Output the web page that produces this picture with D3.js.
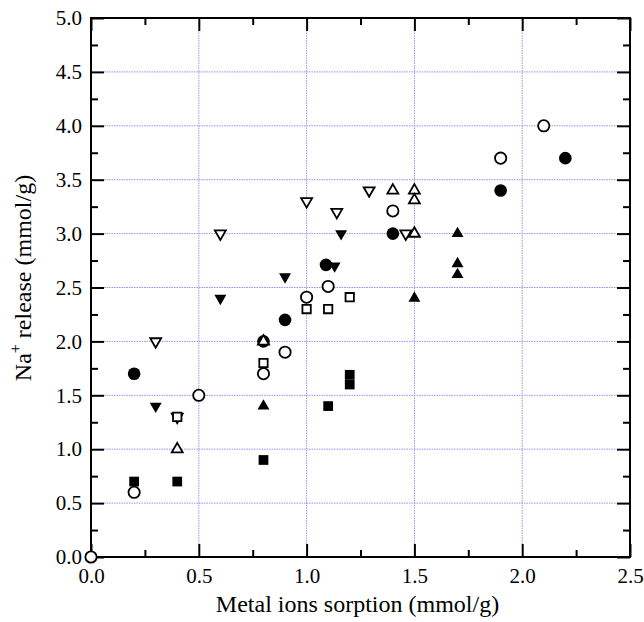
<!DOCTYPE html>
<html>
<head>
<meta charset="utf-8">
<script src="https://cdn.jsdelivr.net/npm/d3@7"></script>
<style>
  body { margin: 0; background: #fff; }
  text { font-family: "Liberation Serif", "Times New Roman", serif; fill: #000; }
</style>
</head>
<body>
<div id="chart"></div>
<script>
// tick values
var xMajor = [0, 0.5, 1.0, 1.5, 2.0, 2.5];
var xMinor = [0.25, 0.75, 1.25, 1.75, 2.25];
var yMajor = [0, 0.5, 1.0, 1.5, 2.0, 2.5, 3.0, 3.5, 4.0, 4.5, 5.0];
var yMinor = [0.25, 0.75, 1.25, 1.75, 2.25, 2.75, 3.25, 3.75, 4.25, 4.75];

// series values, [sorption, release]
var filledSquare = [[0.2, 0.7], [0.4, 0.7], [0.8, 0.9], [1.1, 1.4], [1.2, 1.6], [1.2, 1.69]];
var filledTriUp = [[0.8, 1.4], [1.5, 2.4], [1.7, 3.0], [1.7, 2.72], [1.7, 2.62]];
var filledTriDown = [[0.3, 1.4], [0.6, 2.4], [0.9, 2.6], [1.13, 2.7], [1.16, 3.0]];
var filledCircle = [[0.2, 1.7], [0.8, 2.0], [0.9, 2.2], [1.09, 2.71], [1.4, 3.0], [1.9, 3.4], [2.2, 3.7]];
var openTriDown = [[0.3, 2.0], [0.4, 1.3], [0.6, 3.0], [1.0, 3.3], [1.14, 3.2], [1.29, 3.4], [1.46, 3.0]];
var openSquare = [[0.4, 1.3], [0.8, 1.8], [1.0, 2.3], [1.1, 2.3], [1.2, 2.41]];
var openCircle = [[0, 0], [0.2, 0.6], [0.5, 1.5], [0.8, 1.7], [0.9, 1.9], [1.0, 2.41], [1.1, 2.51], [1.4, 3.21], [1.9, 3.7], [2.1, 4.0]];
var openTriUp = [[0.4, 1.0], [0.8, 2.0], [1.4, 3.4], [1.5, 3.4], [1.5, 3.31], [1.5, 3.0]];

var width = 644, height = 622;
var plotLeft = 91, plotRight = 630, plotTop = 18, plotBottom = 557;
var majorLen = 13, minorLen = 7;
var serif = '"Liberation Serif", "Times New Roman", serif';

var xScale = d3.scaleLinear().domain([0, 2.5]).range([plotLeft, plotRight]);
var yScale = d3.scaleLinear().domain([0, 5]).range([plotBottom, plotTop]);

var svg = d3.select('#chart').append('svg')
	.attr('width', width)
	.attr('height', height)
	.attr('font-family', serif);

// grid
svg.append('g').selectAll('line')
	.data(yMajor.filter(function (d) { return d > 0 && d < 5; }))
	.enter().append('line')
	.attr('x1', plotLeft + majorLen)
	.attr('x2', plotRight - majorLen)
	.attr('y1', function (d) { return yScale(d); })
	.attr('y2', function (d) { return yScale(d); })
	.attr('stroke', '#9595f2')
	.attr('stroke-width', 1)
	.attr('stroke-dasharray', '1.5,1');

svg.append('g').selectAll('line')
	.data(xMajor.filter(function (d) { return d > 0 && d < 2.5; }))
	.enter().append('line')
	.attr('y1', plotBottom - majorLen)
	.attr('y2', plotTop + majorLen)
	.attr('x1', function (d) { return xScale(d); })
	.attr('x2', function (d) { return xScale(d); })
	.attr('stroke', '#9595f2')
	.attr('stroke-width', 1)
	.attr('stroke-dasharray', '1.5,1');

// axes with inward ticks
function styleAxis(g) {
	g.attr('font-family', serif).attr('font-size', 21);
	g.select('.domain').remove();
	g.selectAll('.tick line').attr('stroke', '#000').attr('stroke-width', 2);
	g.selectAll('.tick text')
		.style('font-family', serif)
		.style('font-size', '21px')
		.attr('fill', '#000');
}

svg.append('g')
	.attr('transform', 'translate(0,' + plotBottom + ')')
	.call(d3.axisBottom(xScale).tickValues(xMajor).tickSize(-majorLen).tickPadding(11).tickFormat(d3.format('.1f')))
	.call(styleAxis);
svg.append('g')
	.attr('transform', 'translate(0,' + plotBottom + ')')
	.call(d3.axisBottom(xScale).tickValues(xMinor).tickSize(-minorLen).tickFormat(''))
	.call(styleAxis);
svg.append('g')
	.attr('transform', 'translate(0,' + plotTop + ')')
	.call(d3.axisTop(xScale).tickValues(xMajor).tickSize(-majorLen).tickFormat(''))
	.call(styleAxis);
svg.append('g')
	.attr('transform', 'translate(0,' + plotTop + ')')
	.call(d3.axisTop(xScale).tickValues(xMinor).tickSize(-minorLen).tickFormat(''))
	.call(styleAxis);

svg.append('g')
	.attr('transform', 'translate(' + plotLeft + ',0)')
	.call(d3.axisLeft(yScale).tickValues(yMajor).tickSize(-majorLen).tickPadding(9).tickFormat(d3.format('.1f')))
	.call(styleAxis);
svg.append('g')
	.attr('transform', 'translate(' + plotLeft + ',0)')
	.call(d3.axisLeft(yScale).tickValues(yMinor).tickSize(-minorLen).tickFormat(''))
	.call(styleAxis);
svg.append('g')
	.attr('transform', 'translate(' + plotRight + ',0)')
	.call(d3.axisRight(yScale).tickValues(yMajor).tickSize(-majorLen).tickFormat(''))
	.call(styleAxis);
svg.append('g')
	.attr('transform', 'translate(' + plotRight + ',0)')
	.call(d3.axisRight(yScale).tickValues(yMinor).tickSize(-minorLen).tickFormat(''))
	.call(styleAxis);

// frame
svg.append('rect')
	.attr('x', plotLeft)
	.attr('y', plotTop)
	.attr('width', plotRight - plotLeft)
	.attr('height', plotBottom - plotTop)
	.attr('fill', 'none')
	.attr('stroke', '#000')
	.attr('stroke-width', 2);

// markers, in drawing order
var series = [
	{ data: filledSquare, type: d3.symbolSquare, size: 95, fill: '#000', rot: 0 },
	{ data: filledTriUp, type: d3.symbolTriangle, size: 62, fill: '#000', rot: 0 },
	{ data: filledTriDown, type: d3.symbolTriangle, size: 62, fill: '#000', rot: 180 },
	{ data: filledCircle, type: d3.symbolCircle, size: 125, fill: '#000', rot: 0 },
	{ data: openTriDown, type: d3.symbolTriangle, size: 52, fill: '#fff', rot: 180 },
	{ data: openSquare, type: d3.symbolSquare, size: 70, fill: '#fff', rot: 0 },
	{ data: openCircle, type: d3.symbolCircle, size: 100, fill: '#fff', rot: 0 },
	{ data: openTriUp, type: d3.symbolTriangle, size: 52, fill: '#fff', rot: 0 }
];

series.forEach(function (s) {
	svg.append('g').selectAll('path')
		.data(s.data)
		.enter().append('path')
		.attr('d', d3.symbol().type(s.type).size(s.size))
		.attr('transform', function (d) {
			return 'translate(' + xScale(d[0]) + ',' + yScale(d[1]) + ') rotate(' + s.rot + ')';
		})
		.attr('fill', s.fill)
		.attr('stroke', '#000')
		.attr('stroke-width', s.fill === '#000' ? 0 : 1.8);
});

// titles
svg.append('text')
	.attr('x', (plotLeft + plotRight) / 2 - 3)
	.attr('y', 612)
	.attr('text-anchor', 'middle')
	.style('font-family', serif)
	.style('font-size', '24px')
	.text('Metal ions sorption (mmol/g)');

var yTitle = svg.append('text')
	.attr('transform', 'translate(31,278) rotate(-90)')
	.attr('text-anchor', 'middle')
	.style('font-family', serif)
	.style('font-size', '24px');
yTitle.append('tspan').text('Na');
yTitle.append('tspan').attr('dy', -10).style('font-size', '16px').text('+');
yTitle.append('tspan').attr('dy', 10).text(' release (mmol/g)');
</script>
</body>
</html>
